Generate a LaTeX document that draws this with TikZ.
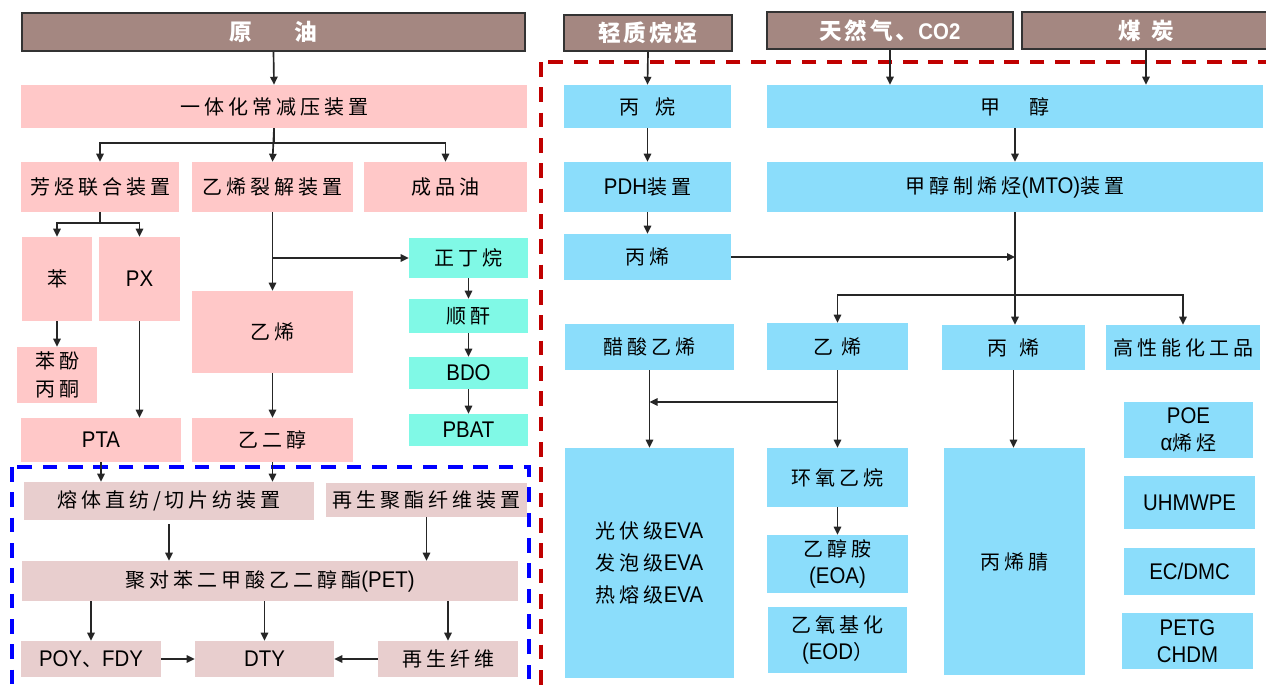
\documentclass[tikz,border=0pt]{standalone}
\usepackage{fontspec}
\setmainfont{Liberation Sans}[FakeStretch=0.9]
\newfontfamily\cj{Noto Sans CJK SC}[LetterSpace=20]
\newfontfamily\cjt{Noto Sans CJK SC}[LetterSpace=12]
\usetikzlibrary{arrows.meta}
\definecolor{brnc}{RGB}{164,135,129}
\definecolor{pinkc}{RGB}{255,200,200}
\definecolor{aquac}{RGB}{128,249,230}
\definecolor{skyc}{RGB}{139,221,251}
\definecolor{mauvec}{RGB}{232,206,206}
\definecolor{redc}{RGB}{192,0,0}
\definecolor{bluec}{RGB}{0,0,255}
\newcommand\lat[1]{{\rmfamily\fontsize{17}{20}\selectfont #1}}
\newcommand\mkbox[7]{\node[#2, minimum width={(#5-#3)*0.75pt}, minimum height={(#6-#4)*0.75pt}] (#1) at ({(#3+#5)/2},{(#4+#6)/2}) {#7};}
\tikzset{
  bx/.style={rectangle, inner sep=0pt, align=center, text=black, font=\fontsize{15}{20}\selectfont\cj},
  pk/.style={bx, fill=pinkc},
  aq/.style={bx, fill=aquac},
  sk/.style={bx, fill=skyc},
  mv/.style={bx, fill=mauvec},
  tt/.style={bx, fill=brnc, draw=black!80, line width=1.2pt, text=white, font=\fontsize{17}{20}\selectfont\cjt\bfseries},
  arr/.style={draw=black!85, line width=1.25pt, -{Triangle[length=6pt,width=5.5pt]}},
  redframe/.style={draw=redc, line width=3pt, dash pattern=on 11pt off 8pt},
  blueframe/.style={draw=bluec, line width=3pt, dash pattern=on 11pt off 8pt}
}
\begin{document}
\begin{tikzpicture}[x=0.75pt,y=-0.75pt]
\useasboundingbox (0,0) rectangle (1266,689);
\clip (0,0) rectangle (1266,689);
\fill[white] (0,0) rectangle (1266,689);
% frames
\draw[redframe] (541,62) rectangle (1300,720);
\draw[blueframe] (12,467) rectangle (529,720);
% left side
\mkbox{yy}{tt}{22}{13}{525}{51}{原\hspace{32pt}油}
\mkbox{yt}{pk}{21}{85}{527}{128}{一体化常减压装置}
\mkbox{fx}{pk}{21}{162}{179}{212}{芳烃联合装置}
\mkbox{yl}{pk}{192}{162}{353}{212}{乙烯裂解装置}
\mkbox{cp}{pk}{364}{162}{527}{212}{成品油}
\mkbox{ben}{pk}{22}{237}{92}{321}{苯}
\mkbox{px}{pk}{99}{237}{180}{321}{\lat{PX}}
\mkbox{bf}{pk}{17}{347}{97}{403}{苯酚\\[1pt]丙酮}
\mkbox{pta}{pk}{21}{418}{181}{462}{\lat{PTA}}
\mkbox{yx}{pk}{192}{291}{353}{373}{乙烯}
\mkbox{yec}{pk}{192}{418}{353}{462}{乙二醇}
\mkbox{zd}{aq}{409}{238}{528}{278}{正丁烷}
\mkbox{sg}{aq}{409}{299}{528}{333}{顺酐}
\mkbox{bdo}{aq}{409}{357}{528}{389}{\lat{BDO}}
\mkbox{pbat}{aq}{409}{414}{528}{446}{\lat{PBAT}}
\mkbox{rz}{mv}{24}{482}{314}{520}{熔体直纺/切片纺装置}
\mkbox{zs}{mv}{326}{483}{527}{517}{再生聚酯纤维装置}
\mkbox{pet}{mv}{22}{561}{518}{601}{聚对苯二甲酸乙二醇酯\lat{(PET)}}
\mkbox{poy}{mv}{21}{641}{161}{677}{\lat{POY}、\lat{FDY}}
\mkbox{dty}{mv}{195}{641}{334}{677}{\lat{DTY}}
\mkbox{zsx}{mv}{378}{641}{518}{677}{再生纤维}
% left connectors
\draw[arr] (yy.south) -- (yt.north);
\draw[arr] (yt.south) -- ++(0,15) -| (fx.north);
\draw[arr] (yt.south) -- ++(0,15) -| (cp.north);
\draw[arr] (yt.south) -- (yl.north);
\draw[arr] (fx.south) -- ++(0,11) -| (ben.north);
\draw[arr] (fx.south) -- ++(0,11) -| (px.north);
\draw[arr] (ben.south) -- (ben.south |- bf.north);
\draw[arr] (px.south) -- (px.south |- pta.north);
\draw[arr] (yl.south) -- (yx.north);
\draw[arr] (yl.south |- zd.west) -- (zd.west);
\draw[arr] (yx.south) -- (yec.north);
\draw[arr] (zd.south) -- (sg.north);
\draw[arr] (sg.south) -- (bdo.north);
\draw[arr] (bdo.south) -- (pbat.north);
\draw[arr] (pta.south) -- (pta.south |- rz.north);
\draw[arr] (yec.south) -- (yec.south |- rz.north);
\draw[arr] ([yshift=-3pt]rz.south) -- (rz.south |- pet.north);
\draw[arr] (zs.south) -- (zs.south |- pet.north);
\draw[arr] (pet.south -| poy.north) -- (poy.north);
\draw[arr] (pet.south -| dty.north) -- (dty.north);
\draw[arr] (pet.south -| zsx.north) -- (zsx.north);
\draw[arr] (poy.east) -- (dty.west);
\draw[arr] (zsx.west) -- (dty.east);
% right side
\mkbox{qz}{tt}{564}{15}{732}{51}{轻质烷烃}
\mkbox{tr}{tt}{767}{12}{1013}{49}{天然气、\lat{CO2}}
\mkbox{mt}{tt}{1022}{12}{1270}{49}{煤\hspace{8pt}炭}
\mkbox{bw}{sk}{564}{85}{731}{128}{丙\hspace{12pt}烷}
\mkbox{jc}{sk}{767}{85}{1263}{128}{甲\hspace{22pt}醇}
\mkbox{pdh}{sk}{564}{162}{731}{212}{\lat{PDH}装置}
\mkbox{mto}{sk}{767}{162}{1263}{212}{甲醇制烯烃\lat{(MTO)}装置}
\mkbox{bxa}{sk}{564}{234}{731}{280}{丙烯}
\mkbox{cs}{sk}{565}{324}{734}{370}{醋酸乙烯}
\mkbox{yxb}{sk}{767}{323}{908}{370}{乙\hspace{6pt}烯}
\mkbox{bxb}{sk}{942}{325}{1085}{370}{丙\hspace{9pt}烯}
\mkbox{gx}{sk}{1106}{325}{1260}{370}{高性能化工品}
\mkbox{eva}{sk}{565}{448}{734}{678}{光伏级\lat{EVA}\\[4pt]发泡级\lat{EVA}\\[4pt]热熔级\lat{EVA}}
\mkbox{hy}{sk}{767}{448}{908}{507}{环氧乙烷}
\mkbox{eoa}{sk}{767}{535}{908}{593}{乙醇胺\\\lat{(EOA)}}
\mkbox{eod}{sk}{768}{607}{907}{673}{乙氧基化\\\lat{(EOD}）}
\mkbox{bxj}{sk}{944}{448}{1085}{675}{丙烯腈}
\mkbox{poe}{sk}{1124}{402}{1253}{458}{\lat{POE}\\\lat{α}烯烃}
\mkbox{uh}{sk}{1124}{476}{1255}{529}{\lat{UHMWPE}}
\mkbox{ec}{sk}{1124}{548}{1255}{595}{\lat{EC/DMC}}
\mkbox{petg}{sk}{1122}{613}{1253}{669}{\lat{PETG}\\\lat{CHDM}}
% right connectors
\coordinate (br) at (1015,295);
\coordinate (brb) at (837.5,402);
\draw[arr] (qz.south) -- (bw.north);
\draw[arr] (tr.south) -- (tr.south |- jc.north);
\draw[arr] (mt.south) -- (mt.south |- jc.north);
\draw[arr] (bw.south) -- (pdh.north);
\draw[arr] (jc.south) -- (mto.north);
\draw[arr] (pdh.south) -- (bxa.north);
\draw[arr] (bxa.east) -- (bxa.east -| mto.south);
\draw[arr] (mto.south) -- (mto.south |- bxb.north);
\draw[arr] (br) -| (yxb.north);
\draw[arr] (br) -| (gx.north);
\draw[arr] (cs.south) -- (eva.north);
\draw[arr] (yxb.south) -- (hy.north);
\draw[arr] (brb) -- (brb -| cs.south);
\draw[arr] (bxb.south) -- (bxb.south |- bxj.north);
\draw[arr] (hy.south) -- (eoa.north);
\end{tikzpicture}
\end{document}
